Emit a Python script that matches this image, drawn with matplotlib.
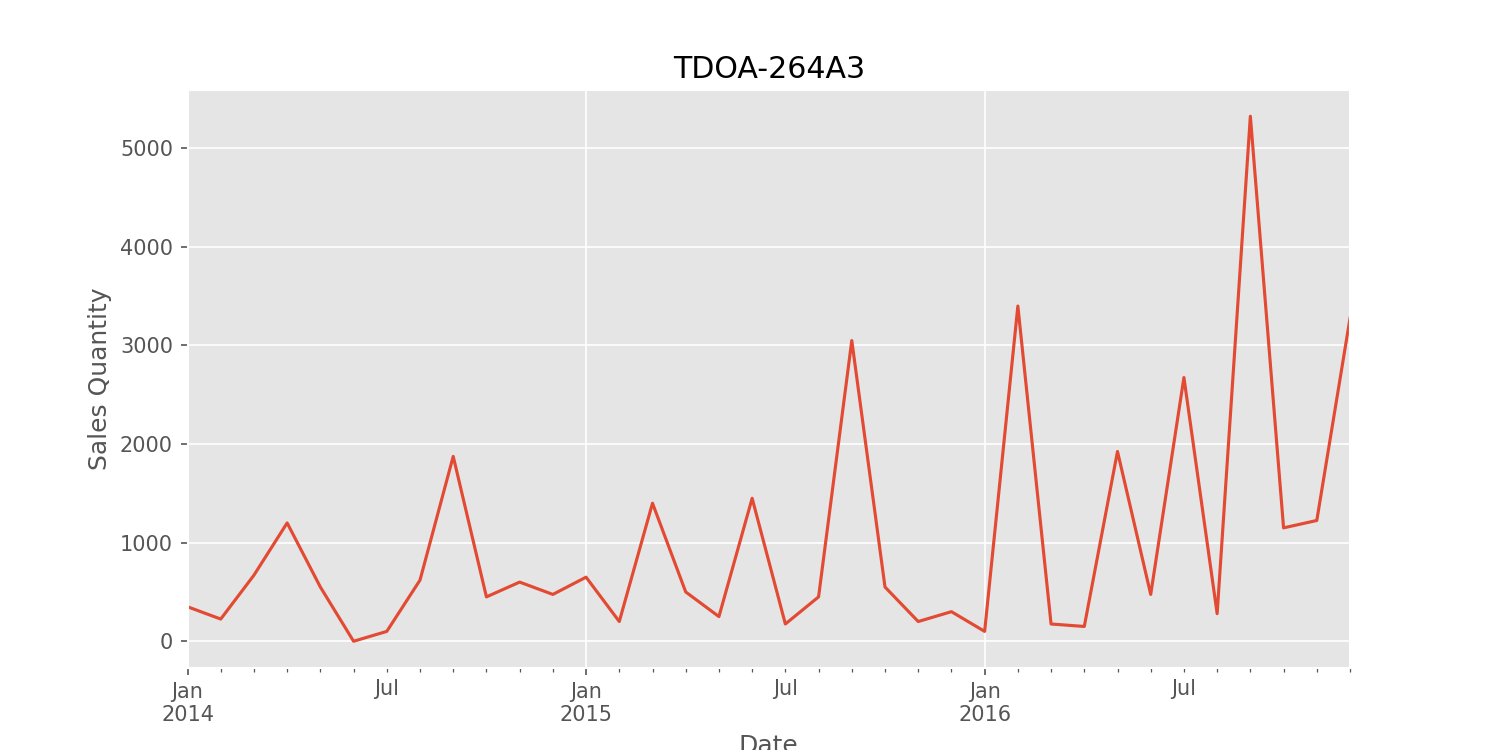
import matplotlib
matplotlib.use("Agg")
import matplotlib.pyplot as plt
import pandas as pd

plt.style.use("ggplot")

dates = pd.date_range("2014-01-01", periods=36, freq="MS")
sales = [350, 225, 670, 1200, 550, 0, 100, 620, 1875, 450, 600, 475,
         650, 200, 1400, 500, 250, 1450, 175, 450, 3050, 550, 200, 300,
         100, 3400, 175, 150, 1925, 475, 2675, 280, 5325, 1150, 1225, 3275]

s = pd.Series(sales, index=dates)

fig, ax = plt.subplots(figsize=(10, 5), dpi=150)
s.plot(ax=ax)
ax.set_title("TDOA-264A3")
ax.set_xlabel("Date")
ax.set_ylabel("Sales Quantity")
fig.savefig("out.png", dpi=150)
